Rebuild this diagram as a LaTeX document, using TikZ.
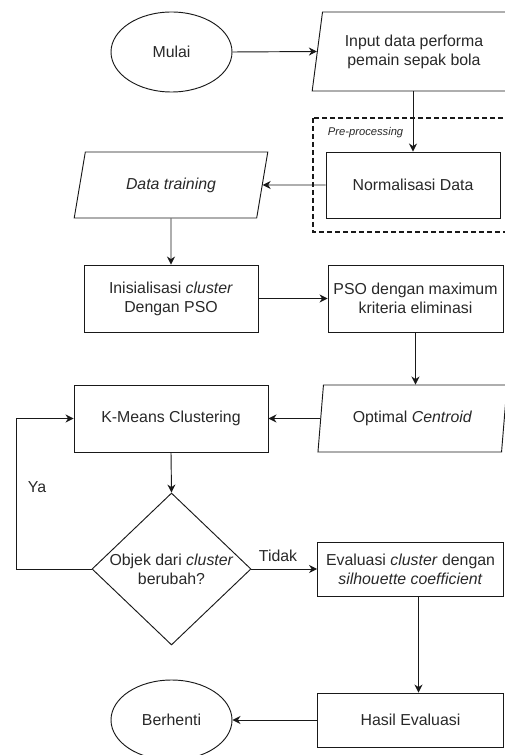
\documentclass[tikz,border=0pt]{standalone}
\usepackage{fontspec}
\setmainfont{Liberation Sans}
\usetikzlibrary{shapes.geometric,arrows.meta}
\definecolor{textcolor}{RGB}{40,40,40}
\definecolor{linecolor}{RGB}{25,25,25}

\begin{document}
\begin{tikzpicture}[x=0.75pt,y=-0.75pt, line width=0.7pt, draw=linecolor,
  every node/.style={font=\fontsize{11.9}{14.3}\selectfont, text=textcolor, align=center},
  flow/.style={-{Stealth[length=6pt,width=6pt]}},
  proc/.style={draw, rectangle, inner sep=1pt},
  term/.style={draw, ellipse, inner sep=0pt, minimum width=90.75pt, minimum height=60pt},
  io/.style={draw, trapezium, trapezium stretches=true, inner sep=0pt},
  decide/.style={draw, diamond, inner sep=0pt, minimum width=119.25pt, minimum height=114pt},
  groupbox/.style={dash pattern=on 3.5pt off 2.5pt, line width=1.4pt}]

  \useasboundingbox (0,0) rectangle (504,755);

  % --- Start and input ---
  \node[term] (mulai) at (171.5,52) {Mulai};
  \node[io, trapezium left angle=77, trapezium right angle=103,
        minimum width=153pt, minimum height=59.25pt] (input) at (414,51.5)
        {Input data performa\\pemain sepak bola};

  % --- Pre-processing group (runs past the right edge) ---
  \draw[groupbox] (313,118) rectangle (514,232);
  \node[anchor=west, font=\fontsize{8.4}{10}\selectfont\itshape] (prelabel) at (323,133) {Pre-processing};
  \node[proc, minimum width=130.5pt, minimum height=49.5pt] (norm) at (413,185) {Normalisasi Data};

  % --- Training data and PSO initialisation ---
  \node[io, trapezium left angle=68.5, trapezium right angle=111.5,
        minimum width=145.5pt, minimum height=49.5pt] (training) at (171,185) {\textit{Data training}};
  \node[proc, minimum width=130.5pt, minimum height=50.25pt] (inisial) at (171,298.5)
        {Inisialisasi \textit{cluster}\\Dengan PSO};
  \node[proc, minimum width=131.25pt, minimum height=50.25pt] (pso) at (415.5,298.5)
        {PSO dengan maximum\\kriteria eliminasi};
  \node[io, trapezium left angle=76, trapezium right angle=104,
        minimum width=142pt, minimum height=50.25pt] (optimal) at (412.5,418.5)
        {Optimal \textit{Centroid}};

  % --- Clustering loop ---
  \node[proc, minimum width=145.5pt, minimum height=50.25pt] (kmeans) at (171,418.5) {K-Means Clustering};
  \node[decide] (cek) at (171.5,569) {};
  \node (cektext) at (cek.center) {Objek dari \textit{cluster}\\berubah?};

  % --- Evaluation and end ---
  \node[proc, minimum width=139.5pt, minimum height=40.5pt] (evaluasi) at (410.5,569)
        {Evaluasi \textit{cluster} dengan\\\textit{silhouette coefficient}};
  \node[proc, minimum width=139.5pt, minimum height=40.5pt] (hasil) at (410.5,720) {Hasil Evaluasi};
  \node[term] (berhenti) at (171.5,720) {Berhenti};

  % --- Connectors ---
  \draw[flow] (mulai.east) -- (input.west);
  \draw[flow] (norm.north |- input.south) -- (norm.north);
  \draw[flow] (norm.west) -- (training.east);
  \draw[flow] (training.south) -- (inisial.north);
  \draw[flow] (inisial.east) -- (pso.west);
  \draw[flow] (pso.south) -- (pso.south |- optimal.north);
  \draw[flow] (optimal.west) -- (kmeans.east);
  \draw[flow] (kmeans.south) -- (cek.north);
  \draw[flow] (cek.west) -- ++(-75,0) |- (kmeans.west);
  \draw[flow] (cek.east) -- (evaluasi.west);
  \draw[flow] ([xshift=6pt]evaluasi.south) -- ([xshift=6pt]hasil.north);
  \draw[flow] (hasil.west) -- (berhenti.east);

  % --- Branch labels ---
  \node (ya) at (37,487) {Ya};
  \node (tidak) at (278,556) {Tidak};

\end{tikzpicture}
\end{document}
